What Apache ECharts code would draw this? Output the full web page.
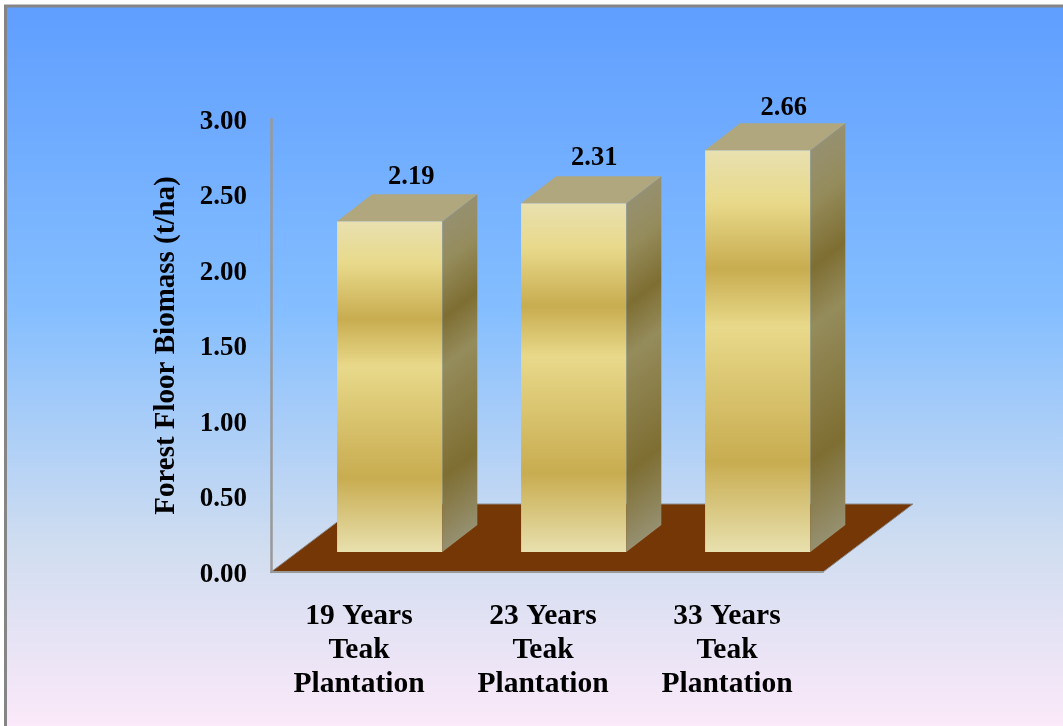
<!DOCTYPE html>
<html>
<head>
<meta charset="utf-8">
<style>html,body{margin:0;padding:0;background:#fff}#chart{width:1063px;height:726px}</style>
<script src="https://cdn.jsdelivr.net/npm/echarts@6/dist/echarts.min.js"></script>
</head>
<body>
<div id="chart"></div>
<script>
// Forest floor biomass by teak plantation age
const categories = ['19 Years\nTeak\nPlantation', '23 Years\nTeak\nPlantation', '33 Years\nTeak\nPlantation'];
const biomass = [2.19, 2.31, 2.66];
const yTicks = { min: 0, max: 3, interval: 0.5 };

// Pseudo-3D layout, in pixels
const FLOOR_DEPTH = [90, -68];
const BAR_LIFT = [26.7, -20];
const BAR_DEPTH = [35, -27];
const BAR_RATIO = 0.572;
const LABEL_SHIFT = [[21.5, -17], [20.5, -18], [26, -15]];

const frontStops = [
  [0, '#E8E0B0'], [0.13, '#E8D98A'], [0.295, '#C8AC50'],
  [0.44, '#E8D98A'], [0.775, '#C8AC50'], [1, '#E8E0AE']
];
const sideStops = [
  [0, '#969070'], [0.13, '#958C5C'], [0.295, '#7E6E32'],
  [0.44, '#958C5C'], [0.775, '#7E6E32'], [1, '#969070']
];

function stops(list) {
  return list.map(function (s) { return { offset: s[0], color: s[1] }; });
}

function renderFloor(params, api) {
  const step = api.size([1, 0])[0];
  const origin = api.coord([0, 0]);
  const x0 = origin[0] - step / 2;
  const x1 = x0 + step * categories.length;
  const y = origin[1];
  return {
    type: 'polygon',
    shape: { points: [[x0, y], [x1, y], [x1 + FLOOR_DEPTH[0], y + FLOOR_DEPTH[1]], [x0 + FLOOR_DEPTH[0], y + FLOOR_DEPTH[1]]] },
    style: { fill: '#753705', stroke: '#8c8c8c', lineWidth: 1 }
  };
}

function renderBar(params, api) {
  const idx = api.value(0);
  const top = api.coord([idx, api.value(1)]);
  const base = api.coord([idx, 0]);
  const w = api.size([1, 0])[0] * BAR_RATIO;
  const xl = top[0] - w / 2 + BAR_LIFT[0];
  const xr = xl + w;
  const yt = top[1] + BAR_LIFT[1];
  const yb = base[1] + BAR_LIFT[1];
  const h = yb - yt;
  const dx = BAR_DEPTH[0], dy = BAR_DEPTH[1];
  // Side shading runs parallel to the receding edge of the face
  const t = dx * h / (dx * dx + dy * dy);
  const sideFill = new echarts.graphic.LinearGradient(
    xr, yt, xr - dy * t, yt + dx * t, stops(sideStops), true
  );
  const shift = LABEL_SHIFT[idx];
  return {
    type: 'group',
    children: [
      { type: 'rect', shape: { x: xl, y: yt, width: w, height: h },
        style: { fill: new echarts.graphic.LinearGradient(0, 0, 0, 1, stops(frontStops)) } },
      { type: 'polygon', shape: { points: [[xr, yt], [xr + dx, yt + dy], [xr + dx, yb + dy], [xr, yb]] },
        style: { fill: sideFill } },
      { type: 'polygon', shape: { points: [[xl, yt], [xr, yt], [xr + dx, yt + dy], [xl + dx, yt + dy]] },
        style: { fill: '#B0A77F' } },
      { type: 'text', x: (xl + xr) / 2 + shift[0], y: yt + dy + shift[1],
        style: { text: api.value(1).toFixed(2), fill: '#000', align: 'center', verticalAlign: 'middle',
                 font: 'bold 26.5px "Liberation Serif"' } }
    ]
  };
}

const chart = echarts.init(document.getElementById('chart'), null, { renderer: 'canvas' });
chart.setOption({
  animation: false,
  backgroundColor: '#fff',
  graphic: [{
    type: 'rect', z: -10, silent: true,
    shape: { x: 5, y: 6, width: 1058, height: 720 },
    style: {
      fill: new echarts.graphic.LinearGradient(0, 0, 0, 1, [
        { offset: 0, color: '#5F9EFF' }, { offset: 0.42, color: '#84BEFF' },
        { offset: 0.75, color: '#D0DDF0' }, { offset: 1, color: '#FBE9F9' }
      ]),
    }
  }, {
    type: 'polyline', z: -9, silent: true,
    shape: { points: [[5.5, 726], [5.5, 6], [1063, 6]] },
    style: { stroke: '#858585', lineWidth: 3, fill: null }
  }],
  grid: { left: 271, top: 119, width: 552, height: 453 },
  xAxis: {
    type: 'category',
    z: 5,
    data: categories,
    axisTick: { show: false },
    axisLine: { lineStyle: { color: '#999', width: 2 } },
    axisLabel: {
      interval: 0, margin: 27, color: '#000', lineHeight: 34, padding: [0, 8, 0, 0],
      fontFamily: 'Liberation Serif', fontWeight: 'bold', fontSize: 29.5
    }
  },
  yAxis: {
    type: 'value',
    z: 5,
    min: yTicks.min, max: yTicks.max, interval: yTicks.interval,
    name: 'Forest Floor Biomass (t/ha)',
    nameLocation: 'middle', nameRotate: 90, nameGap: 90,
    nameTextStyle: { color: '#000', fontFamily: 'Liberation Serif', fontWeight: 'bold', fontSize: 29 },
    splitLine: { show: false },
    axisTick: { show: false },
    axisLine: { show: true, lineStyle: { color: '#999', width: 2.5 } },
    axisLabel: {
      margin: 24, color: '#000', fontFamily: 'Liberation Serif', fontWeight: 'bold', fontSize: 27,
      verticalAlign: 'top', lineHeight: 6,
      formatter: function (v) { return v.toFixed(2); }
    }
  },
  series: [
    { type: 'custom', name: 'floor', renderItem: renderFloor, data: [[0, 0]], clip: false, silent: true, z: 2 },
    { type: 'custom', name: 'Forest floor biomass', renderItem: renderBar, clip: false, z: 3,
      encode: { x: 0, y: 1 },
      data: biomass.map(function (v, i) { return [i, v]; }) }
  ]
});
</script>
</body>
</html>
